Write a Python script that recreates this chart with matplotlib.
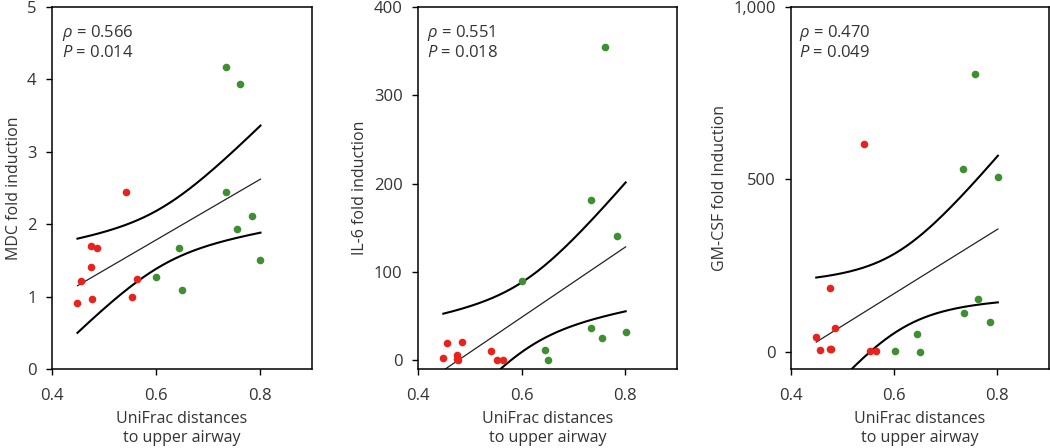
import numpy as np
import matplotlib
matplotlib.use('Agg')
import matplotlib.pyplot as plt
from matplotlib.ticker import FuncFormatter

plt.rcParams['font.family'] = ['Open Sans', 'DejaVu Sans']
plt.rcParams['mathtext.fontset'] = 'custom'
plt.rcParams['mathtext.rm'] = 'Open Sans'
plt.rcParams['mathtext.it'] = 'Open Sans:italic'

# UniFrac distances (shared by all three panels); first 9 red, last 9 green
unifrac = [0.449, 0.456, 0.475, 0.475, 0.477, 0.486, 0.542, 0.553, 0.564,
           0.601, 0.645, 0.651, 0.734, 0.735, 0.756, 0.762, 0.785, 0.801]
n_red = 9

mdc = [0.91, 1.21, 1.70, 1.41, 0.97, 1.67, 2.44, 0.99, 1.24,
       1.27, 1.67, 1.09, 2.44, 4.17, 1.94, 3.94, 2.12, 1.51]
il6 = [3, 19, 6, 1, 0, 21, 10, 0, 0,
       90, 11, 0, 36, 181, 25, 355, 141, 32]
gmcsf = [44, 5, 185, 9, 7, 69, 604, 1, 2,
         1, 53, 0, 531, 113, 806, 153, 85, 508]

y_labels = ['MDC fold induction', 'IL-6 fold induction', 'GM-CSF fold Induction']
rho = ['0.566', '0.551', '0.470']
pvals = ['0.014', '0.018', '0.049']
y_limits = [(0, 5), (-10, 400), (-50, 1000)]
y_ticks = [[0, 1, 2, 3, 4, 5], [0, 100, 200, 300, 400], [0, 500, 1000]]
x_ticks = [0.4, 0.6, 0.8]

# Student t for 95% CI with n-2 = 16 degrees of freedom
t_crit = 2.120

red = '#e8231e'
green = '#3f8f32'
txt = '#333333'

fig = plt.figure(figsize=(10.5, 4.48), dpi=100)
lefts = [0.0495, 0.398, 0.7533]
widths = [0.2476, 0.2467, 0.2457]
text_x = [0.04, 0.035, 0.032]

x = np.array(unifrac)
for i, yvals in enumerate([mdc, il6, gmcsf]):
    y = np.array(yvals, dtype=float)
    ax = fig.add_axes([lefts[i], 0.1763, widths[i], 0.808])

    ax.scatter(x[:n_red], y[:n_red], s=30, color=red, zorder=3, linewidths=0)
    ax.scatter(x[n_red:], y[n_red:], s=30, color=green, zorder=3, linewidths=0)

    # linear fit with 95% confidence band of the mean
    slope, icpt = np.polyfit(x, y, 1)
    xs = np.linspace(x.min(), x.max(), 200)
    fit = icpt + slope * xs
    resid = y - (icpt + slope * x)
    n = len(x)
    s = np.sqrt(np.sum(resid ** 2) / (n - 2))
    sxx = np.sum((x - x.mean()) ** 2)
    half = t_crit * s * np.sqrt(1 / n + (xs - x.mean()) ** 2 / sxx)
    ax.plot(xs, fit, color='#222222', lw=0.9, zorder=2)
    ax.plot(xs, fit + half, color='black', lw=1.5, zorder=2)
    ax.plot(xs, fit - half, color='black', lw=1.5, zorder=2)

    ax.set_xlim(0.4, 0.9)
    ax.set_ylim(*y_limits[i])
    ax.set_xticks(x_ticks)
    ax.set_xticklabels(['0.4', '0.6', '0.8'])
    ax.set_yticks(y_ticks[i])
    ax.yaxis.set_major_formatter(FuncFormatter(lambda v, p: '{:,.0f}'.format(v)))
    ax.tick_params(direction='out', length=4, width=1, labelsize=12,
                   colors='black', labelcolor=txt)
    ax.tick_params(axis='x', pad=9.5)
    ax.tick_params(axis='y', pad=7)
    for sp in ax.spines.values():
        sp.set_linewidth(1.1)

    ax.set_xlabel('UniFrac distances\nto upper airway', fontsize=11.5,
                  color=txt, labelpad=5, linespacing=1.3)
    ax.set_ylabel(y_labels[i], fontsize=11.5, color=txt, labelpad=4)

    ax.text(text_x[i], 0.955, r'$\rho$ = ' + rho[i], transform=ax.transAxes,
            fontsize=12, color=txt, va='top')
    ax.text(text_x[i], 0.895, r'$P$ = ' + pvals[i], transform=ax.transAxes,
            fontsize=12, color=txt, va='top')

fig.savefig('out.png', dpi=100)
